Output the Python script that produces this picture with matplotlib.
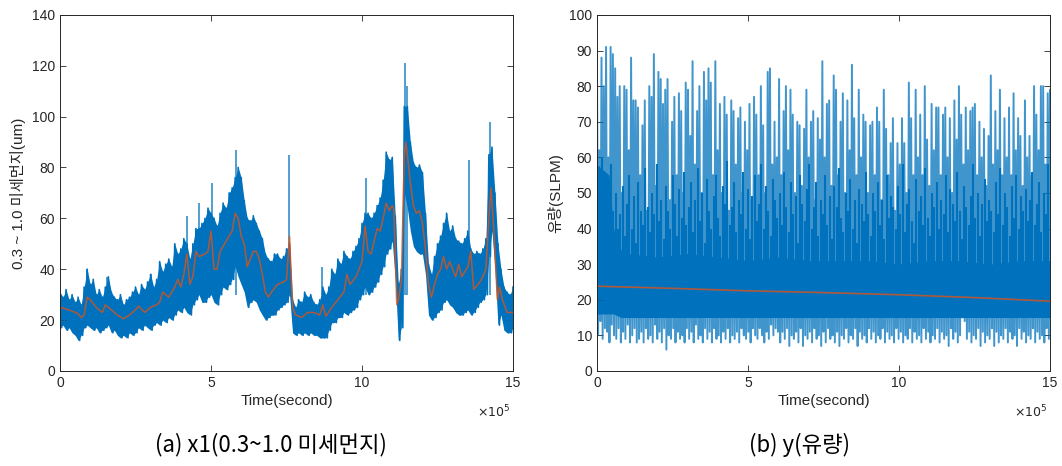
import numpy as np
import matplotlib
matplotlib.use('Agg')
import matplotlib.pyplot as plt

plt.rcParams['font.family'] = ['Liberation Sans', 'Noto Sans CJK KR']

# --- (a) 0.3~1.0 fine dust ---
# upper / lower edge of the noisy band, every 0.1e5 s from 0 to 15e5
pm_hi = [31, 29, 32, 28, 30, 27, 29, 26, 33, 40,
         34, 36, 30, 32, 29, 33, 37, 31, 29, 28,
         30, 26, 28, 29, 31, 33, 30, 34, 32, 35,
         38, 33, 36, 43, 39, 42, 44, 41, 50, 46,
         48, 52, 50, 44, 50, 56, 56, 58, 60, 64,
         62, 60, 57, 62, 66, 64, 70, 72, 76, 80,
         76, 67, 60, 59, 61, 58, 55, 52, 46, 44,
         43, 46, 46, 44, 45, 48, 50, 28, 25, 28,
         27, 31, 29, 30, 27, 26, 28, 33, 30, 33,
         40, 38, 44, 42, 47, 45, 44, 47, 49, 52,
         58, 62, 62, 60, 62, 65, 68, 75, 86, 83,
         84, 61, 34, 40, 104, 104, 90, 82, 80, 81,
         78, 62, 42, 38, 45, 50, 53, 58, 62, 55,
         57, 52, 51, 50, 52, 55, 48, 46, 47, 46,
         48, 52, 85, 88, 70, 50, 40, 33, 31, 30,
         33]
pm_lo = [17, 18, 16, 17, 15, 14, 12, 14, 17, 18,
         17, 16, 17, 15, 16, 17, 18, 15, 16, 14,
         13, 14, 13, 15, 14, 15, 17, 16, 18, 17,
         16, 18, 19, 18, 20, 19, 21, 20, 22, 24,
         23, 25, 23, 22, 26, 28, 30, 27, 27, 29,
         30, 27, 26, 30, 33, 32, 34, 36, 41, 37,
         34, 31, 25, 27, 28, 27, 24, 22, 20, 21,
         22, 22, 24, 25, 26, 27, 30, 15, 14, 15,
         14, 15, 14, 15, 14, 14, 13, 13, 13, 16,
         19, 19, 21, 21, 23, 22, 23, 24, 25, 28,
         30, 33, 30, 31, 33, 35, 38, 41, 46, 48,
         51, 36, 12, 17, 70, 64, 55, 49, 47, 46,
         46, 38, 22, 20, 21, 23, 24, 27, 28, 26,
         25, 23, 22, 22, 23, 24, 22, 23, 25, 27,
         28, 30, 45, 55, 40, 18, 22, 16, 15, 15,
         17]
# thin single spikes above the band
pm_spike_t = [0.9, 1.55, 3.0, 4.2, 4.6, 5.02, 5.82, 7.58, 8.68,
              10.12, 11.42, 11.48, 13.55, 14.25]
pm_spike_top = [40, 37, 38, 61, 66, 74, 87, 85, 41,
                76, 121, 112, 83, 98]
# smoothed (orange) line
pm_mid_t = [0, 0.3, 0.5, 0.6, 0.7, 0.8, 0.9, 1.0, 1.2, 1.4,
            1.5, 1.7, 1.9, 2.1, 2.3, 2.5, 2.6, 2.8, 3.0, 3.2,
            3.3, 3.4, 3.6, 3.8, 3.9, 4.0, 4.1, 4.2, 4.3, 4.4,
            4.5, 4.6, 4.8, 4.9, 5.0, 5.1, 5.2, 5.3, 5.5, 5.7,
            5.8, 5.9, 6.0, 6.1, 6.2, 6.4, 6.5, 6.6, 6.7, 6.8,
            6.9, 7.0, 7.2, 7.4, 7.5, 7.6, 7.7, 7.8, 8.0, 8.2,
            8.4, 8.6, 8.7, 8.8, 9.0, 9.2, 9.4, 9.5, 9.6, 9.8,
            10.0, 10.1, 10.2, 10.3, 10.4, 10.5, 10.6, 10.7, 10.8, 10.9,
            11.0, 11.05, 11.15, 11.2, 11.3, 11.4, 11.45, 11.5, 11.6, 11.7,
            11.8, 11.9, 12.0, 12.1, 12.2, 12.3, 12.4, 12.5, 12.6, 12.7,
            12.8, 12.9, 13.0, 13.1, 13.2, 13.3, 13.5, 13.6, 13.7, 13.9,
            14.0, 14.1, 14.2, 14.27, 14.37, 14.48, 14.55, 14.65, 14.8, 15.0]
pm_mid = [25, 24, 23, 22.5, 21, 22, 29, 28, 25, 23,
          26, 24, 22, 20.5, 22, 24, 25.5, 23, 25, 26,
          27, 31, 29, 33, 36, 33, 38, 46, 34, 37,
          47, 45, 46, 47, 55, 40, 40, 47, 51, 55,
          62, 60, 53, 50, 41, 47, 47, 44, 38, 31,
          29, 31, 34, 35, 36, 53, 25, 22, 21, 23,
          23, 22, 26, 21.5, 25, 28, 31, 38, 34, 37,
          43, 57, 47, 46, 51, 56, 55, 60, 66, 63,
          65, 64, 26, 28, 35, 85, 90, 85, 74, 65,
          62, 63, 58, 48, 34, 29, 34, 38, 40, 45,
          40, 43, 40, 37, 42, 37, 41, 47, 32, 35,
          37, 40, 60, 72, 54, 28, 33, 28, 23, 23]

# --- (b) flow rate: spike tops / dips (evenly sampled over 0..15e5 s) ---
flow_peak = [91, 62, 88, 80, 91, 60, 91, 89, 85, 77,
             80, 50, 80, 79, 62, 88, 76, 76, 74, 55,
             69, 76, 45, 80, 77, 89, 52, 84, 82, 75,
             79, 82, 48, 70, 77, 55, 78, 73, 50, 81,
             79, 66, 87, 58, 73, 80, 50, 84, 76, 85,
             81, 55, 87, 62, 75, 50, 77, 72, 45, 76,
             73, 58, 71, 74, 50, 70, 62, 75, 48, 77,
             72, 55, 80, 69, 50, 84, 85, 58, 70, 60,
             82, 55, 73, 80, 62, 79, 72, 50, 70, 69,
             52, 68, 79, 60, 70, 73, 48, 71, 65, 87,
             60, 75, 76, 52, 83, 79, 55, 70, 78, 50,
             76, 62, 86, 71, 55, 79, 60, 72, 70, 50,
             69, 70, 55, 74, 70, 48, 79, 68, 55, 64,
             71, 45, 64, 58, 71, 64, 50, 81, 71, 55,
             79, 60, 72, 55, 80, 65, 52, 75, 62, 74,
             74, 55, 72, 74, 60, 71, 50, 76, 65, 80,
             72, 58, 74, 62, 73, 74, 75, 55, 70, 60,
             68, 52, 66, 83, 58, 73, 62, 79, 55, 71,
             60, 74, 55, 78, 62, 71, 66, 52, 76, 60,
             66, 55, 80, 72, 62, 80, 80, 58, 78, 79]
flow_dip = [10, 14, 9, 12, 11, 8, 13, 10, 9, 12,
            8, 11, 9, 13, 8, 10, 12, 8, 9, 11,
            8, 12, 9, 10, 8, 13, 9, 11, 8, 12,
            6, 10, 9, 12, 8, 11, 9, 10, 8, 12,
            9, 11, 8, 13, 9, 10, 8, 12, 9, 11,
            8, 12, 9, 10, 8, 11, 9, 12, 8, 10,
            9, 11, 8, 12, 10, 9, 11, 8, 12, 10,
            9, 12, 10, 8, 11, 9, 13, 10, 12, 11,
            8, 11, 9, 12, 7, 10, 9, 11, 8, 12,
            7, 10, 9, 11, 8, 12, 9, 10, 7, 11,
            8, 12, 9, 10, 8, 11, 7, 10, 9, 12,
            8, 10, 9, 12, 7, 11, 9, 10, 8, 12,
            9, 11, 8, 10, 9, 12, 8, 11, 9, 10,
            8, 12, 9, 11, 8, 10, 9, 12, 8, 11,
            9, 10, 8, 12, 9, 11, 8, 10, 9, 12,
            8, 11, 9, 10, 7, 12, 9, 11, 8, 10,
            15, 14, 9, 11, 8, 10, 9, 12, 7, 11,
            8, 10, 9, 12, 7, 11, 8, 10, 9, 12,
            8, 11, 9, 10, 7, 12, 9, 11, 8, 10,
            9, 12, 8, 11, 9, 10, 8, 12, 9, 11]
# medium-height spikes in between the tall ones
flow_mid = [55, 48, 60, 42, 52, 38, 58, 45, 50, 40,
            44, 52, 38, 47, 55, 40, 49, 36, 53, 45,
            41, 57, 46, 39, 50, 44, 58, 42, 48, 37,
            52, 45, 40, 55, 47, 38, 51, 43, 56, 41,
            46, 53, 39, 48, 57, 42, 50, 36, 54, 45,
            40, 49, 55, 43, 38, 52, 47, 59, 41, 46,
            53, 39, 48, 44, 56, 40, 51, 37, 49, 55,
            42, 47, 58, 40, 52, 45, 38, 54, 48, 43,
            50, 41, 56, 46, 39, 53, 44, 49, 36, 55,
            47, 42, 51, 58, 40, 46, 53, 38, 48, 44,
            55, 41, 49, 37, 52, 46, 57, 43, 39, 50,
            45, 54, 40, 48, 36, 51, 47, 42, 56, 44,
            38, 50, 45, 53, 41, 48, 37, 55, 43, 49,
            46, 40, 52, 44, 58, 39, 47, 51, 42, 36,
            54, 45, 49, 41, 57, 43, 38, 50, 46, 53,
            40, 48, 44, 55, 39, 51, 47, 42, 56, 45,
            37, 52, 46, 41, 49, 58, 43, 50, 38, 47,
            54, 42, 48, 45, 39, 53, 44, 57, 41, 50,
            46, 38, 52, 43, 55, 40, 49, 45, 51, 42,
            48, 56, 41, 47, 53, 39, 50, 44, 58, 46]
# dense core of the flow signal
core_t = [0, 0.4, 0.55, 0.8, 1, 2, 3, 4, 5, 6, 7, 8, 9, 10, 11, 12, 13, 14, 15]
core_hi = [58, 55, 40, 34, 33, 32, 33, 32, 31, 32, 31, 31, 31, 30, 31, 31, 30, 31, 31]
core_lo = [16, 16, 16, 15, 15, 15, 15, 15, 15, 15, 15, 15, 15, 15, 15, 15, 15, 15, 15]
trend_t = [0, 2.5, 5, 7.5, 10, 12.5, 15]
trend = [23.8, 23.2, 22.5, 22.0, 21.4, 20.6, 19.6]

blue = '#0072BD'
orange = '#D95319'
grey = '#262626'

fig = plt.figure(figsize=(10.62, 4.66), dpi=100)
ax1 = fig.add_axes([0.0565, 0.204, 0.4266, 0.764])
ax2 = fig.add_axes([0.5621, 0.204, 0.4266, 0.764])

# left panel
t = np.linspace(0, 15e5, len(pm_hi))
half = (t[1] - t[0]) / 2
ax1.fill_between(t, pm_lo, pm_hi, color=blue, lw=0)
zig_t = np.ravel(np.column_stack([t, t + half]))[:-1]
zig_v = np.ravel(np.column_stack([pm_hi, pm_lo]))[:-1]
ax1.plot(zig_t, zig_v, color=blue, lw=1.2)
ax1.vlines(np.array(pm_spike_t) * 1e5, 30, pm_spike_top, color=blue, lw=1.2, alpha=0.8)
ax1.plot(np.array(pm_mid_t) * 1e5, pm_mid, color=orange, lw=1.1, alpha=0.8)
ax1.set_ylim(0, 140)
ax1.set_yticks(np.arange(0, 141, 20))
ax1.set_ylabel('0.3 ~ 1.0 미세먼지(um)', fontsize=11, color=grey)

# right panel
n = len(flow_peak)
ft = np.linspace(0, 15e5, n)
step = 15e5 / (n - 1)
ax2.fill_between(np.array(core_t) * 1e5, core_lo, core_hi, color=blue, lw=0)
ax2.vlines(ft + step / 4, 20, flow_mid, color=blue, lw=1.5)
fz_t = np.ravel(np.column_stack([ft, ft + step / 2]))
fz_v = np.ravel(np.column_stack([flow_peak, flow_dip]))
ax2.plot(fz_t, fz_v, color=blue, lw=1.4, alpha=0.75)
ax2.plot(np.array(trend_t) * 1e5, trend, color=orange, lw=1.2, alpha=0.8)
ax2.set_ylim(0, 100)
ax2.set_yticks(np.arange(0, 101, 10))
ax2.set_ylabel('유량(SLPM)', fontsize=11, color=grey)

for ax in (ax1, ax2):
    ax.set_xlim(0, 15e5)
    ax.set_xticks([0, 5e5, 10e5, 15e5])
    ax.set_xticklabels(['0', '5', '10', '15'])
    ax.tick_params(direction='in', length=4, width=0.6, colors=grey,
                   labelsize=10, top=True, right=True)
    for s in ax.spines.values():
        s.set_color(grey)
        s.set_linewidth(0.7)
    ax.set_xlabel('Time(second)', fontsize=11, color=grey, labelpad=3)
    ax.text(0.995, -0.115, r'$\times10^5$', transform=ax.transAxes,
            fontsize=9, color=grey, ha='right', va='center')

fig.text(0.255, 0.045, '(a) x1(0.3~1.0 미세먼지)', fontsize=16,
         ha='center', va='center', family=['Noto Sans CJK KR'])
fig.text(0.753, 0.045, '(b) y(유량)', fontsize=16,
         ha='center', va='center', family=['Noto Sans CJK KR'])

fig.savefig('out.png', dpi=100)
